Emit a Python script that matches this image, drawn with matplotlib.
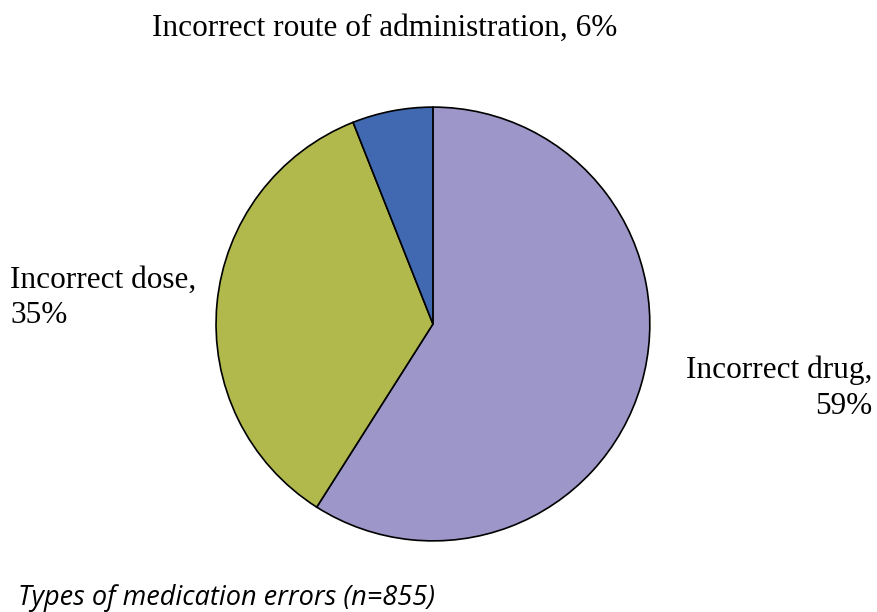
import matplotlib.pyplot as plt

# data
labels = ['Incorrect drug', 'Incorrect dose', 'Incorrect route of administration']
shares = [59, 35, 6]
colors = ['#9d96c9', '#b1b94c', '#4169b1']

fig = plt.figure(figsize=(8.77, 6.12), dpi=100)
ax = fig.add_axes([0.2451, 0.1144, 0.4971, 0.7124])
ax.pie(shares, colors=colors, startangle=90, counterclock=False,
       wedgeprops=dict(edgecolor='black', linewidth=1.2))
ax.set_xlim(-1.005, 1.005)
ax.set_ylim(-1.005, 1.005)
ax.set_aspect('equal')

serif = 'Liberation Serif'
fig.text(385 / 877, 1 - 28 / 612, f'{labels[2]}, {shares[2]}%', family=serif,
         fontsize=22.5, ha='center', va='center')
fig.text(10 / 877, 1 - 298 / 612, f'{labels[1]},\n{shares[1]}%', family=serif,
         fontsize=22.5, ha='left', va='center', linespacing=1.3)
fig.text(872 / 877, 1 - 388 / 612, f'{labels[0]},\n{shares[0]}%', family=serif,
         fontsize=22.5, ha='right', va='center', linespacing=1.3, multialignment='right')

fig.text(18 / 877, 1 - 598 / 612, 'Types of medication errors (n=855)',
         family='Open Sans', style='italic', fontsize=19.5, ha='left', va='center')

fig.savefig('out.png')
